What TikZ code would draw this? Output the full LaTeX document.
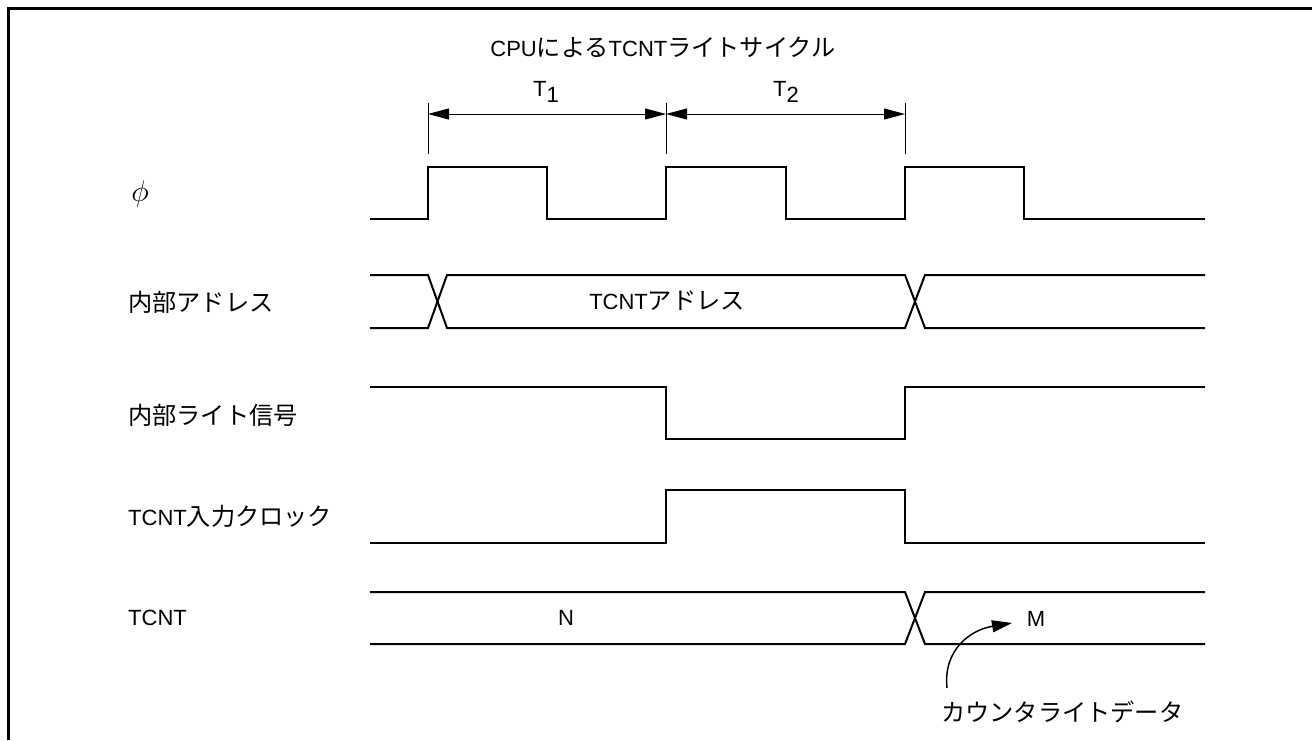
\documentclass[tikz,border=0pt]{standalone}
\usepackage{fontspec}
\setmainfont{Liberation Sans}
\newfontfamily\jp[Scale=1.1]{Noto Sans CJK JP}
\usetikzlibrary{arrows.meta}
\begin{document}
\begin{tikzpicture}[x=1pt,y=-1pt,
  sig/.style={line width=2pt, line join=miter},
  frameline/.style={line width=2.2pt},
  dim/.style={line width=0.9pt},
  lbl/.style={font=\fontsize{22}{26}\selectfont, inner sep=0pt}]
\useasboundingbox (0,0) rectangle (1312,740);
% frame
\draw[frameline] (8.5,740) -- (8.5,8.5) -- (1312,8.5);

% title
\node[lbl] (title) at (663,47) {CPU{\jp による}TCNT{\jp ライトサイクル}};

% dimension ticks
\coordinate (ta0) at (428,103); \coordinate (tb0) at (428,154);
\coordinate (ta1) at (666,103); \coordinate (tb1) at (666,154);
\coordinate (ta2) at (905,103); \coordinate (tb2) at (905,154);
\draw[dim] (ta0) -- (tb0);
\draw[dim] (ta1) -- (tb1);
\draw[dim] (ta2) -- (tb2);
\coordinate (d0) at (428,114);
\coordinate (d1) at (666,114);
\coordinate (d2) at (905,114);
\draw[dim, {Triangle[length=21pt,width=11pt]}-{Triangle[length=21pt,width=11pt]}] (d0) -- (d1);
\draw[dim, {Triangle[length=21pt,width=11pt]}-{Triangle[length=21pt,width=11pt]}] (d1) -- (d2);
\node[lbl] (T1) at (546,92) {T\raisebox{-6pt}{1}};
\node[lbl] (T2) at (786,92) {T\raisebox{-6pt}{2}};

% labels
\node[lbl] (lphi) at (140,194) {\scalebox{1.45}{$\phi$}};
\node[lbl, anchor=west] (laddr) at (128,302) {\jp 内部アドレス};
\node[lbl, anchor=west] (lwr) at (128,415) {\jp 内部ライト信号};
\node[lbl, anchor=west] (lclk) at (128,516) {TCNT{\jp 入力クロック}};
\node[lbl, anchor=west] (ltcnt) at (128,618) {TCNT};

% phi clock
\draw[sig] (370,219) -- (428,219) -- (428,167) -- (547,167) -- (547,219) -- (666,219) -- (666,167) -- (786,167) -- (786,219) -- (905,219) -- (905,167) -- (1024,167) -- (1024,219) -- (1205,219);

% internal address bus
\draw[sig] (370,275) -- (428,275) -- (447,328) -- (905,328) -- (925,275) -- (1205,275);
\draw[sig] (370,328) -- (428,328) -- (447,275) -- (905,275) -- (925,328) -- (1205,328);
\node[lbl] (addrv) at (667,301) {TCNT{\jp アドレス}};

% internal write signal
\draw[sig] (370,387) -- (666,387) -- (666,439) -- (905,439) -- (905,387) -- (1205,387);

% TCNT input clock
\draw[sig] (370,543) -- (666,543) -- (666,490) -- (905,490) -- (905,543) -- (1205,543);

% TCNT bus
\draw[sig] (370,592) -- (905,592) -- (925,644) -- (1205,644);
\draw[sig] (370,644) -- (905,644) -- (925,592) -- (1205,592);
\node[lbl] (valN) at (566,618) {N};
\node[lbl] (valM) at (1036,619) {M};

% counter write data
\node[lbl, anchor=west] (cwd) at (941,712) {\jp カウンタライトデータ};
\coordinate (cstart) at (947,688);
\coordinate (cend) at (1012,623);
\draw[line width=1.5pt, -{Triangle[length=20pt,width=12pt]}] (cstart) .. controls (943,650) and (970,630) .. (cend);
\end{tikzpicture}
\end{document}
